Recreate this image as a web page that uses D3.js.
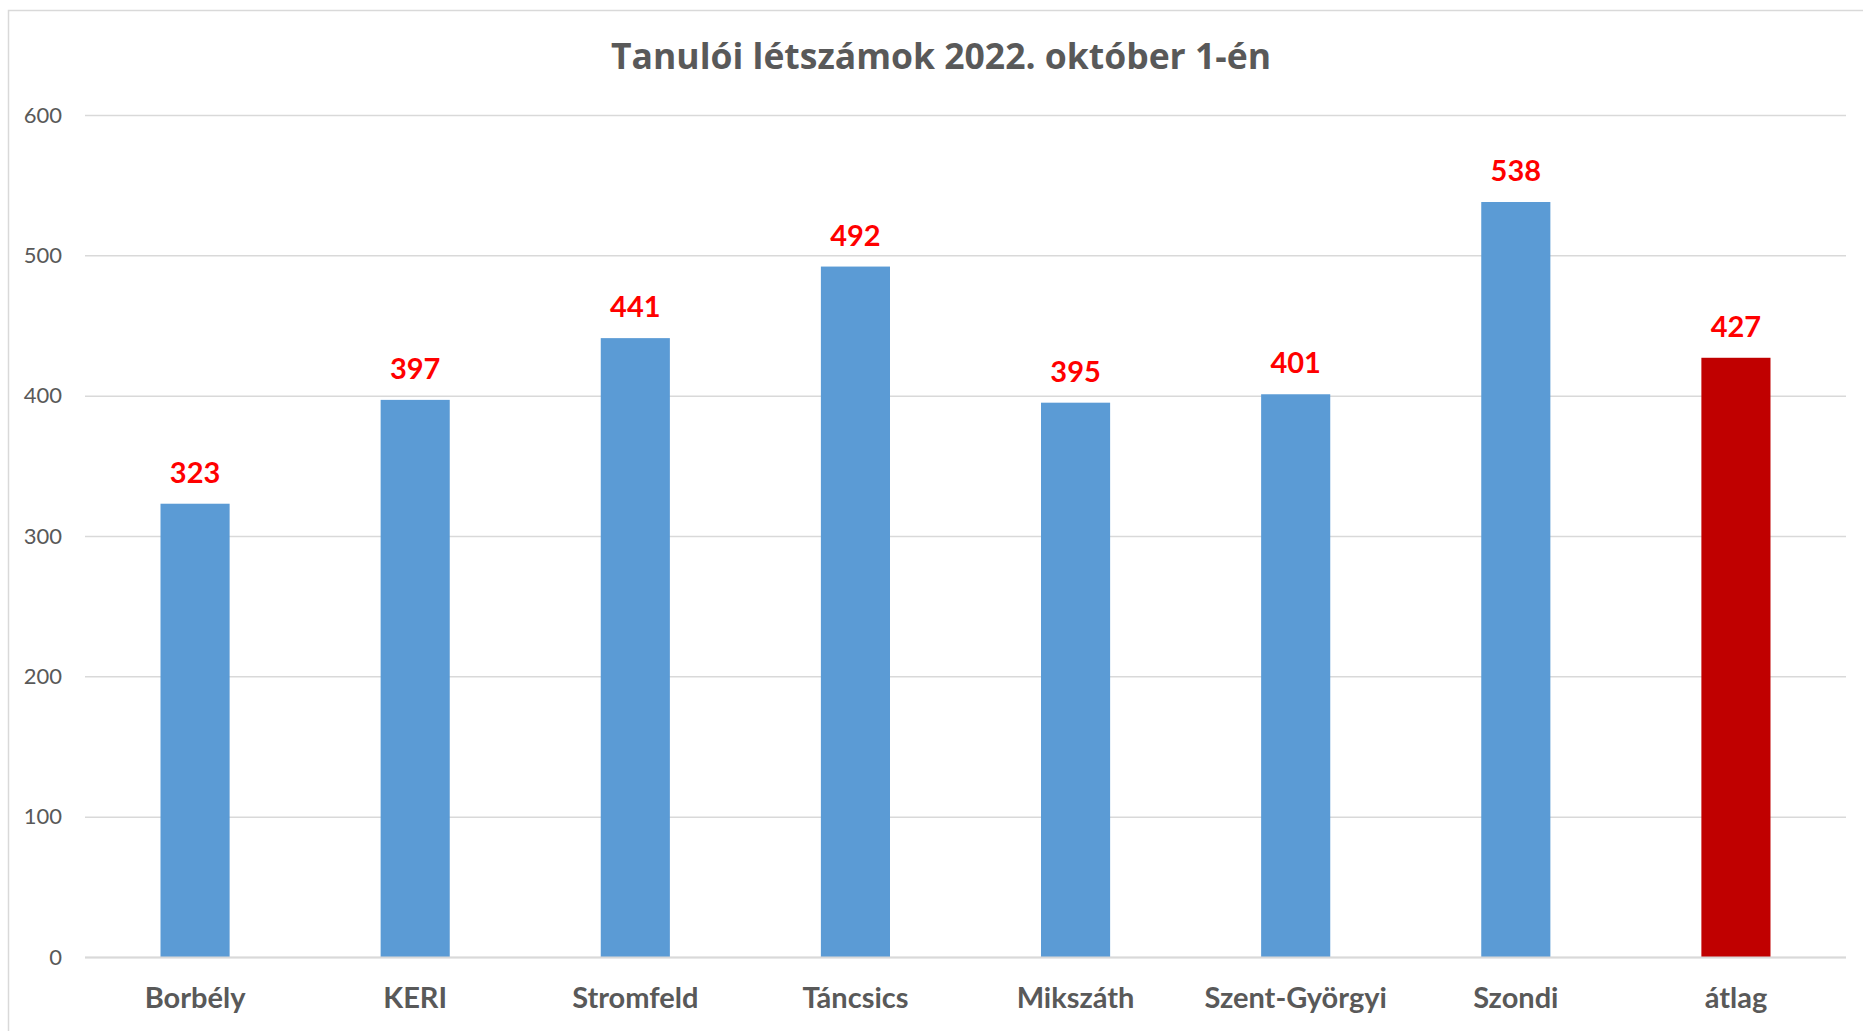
<!DOCTYPE html>
<html>
<head>
<meta charset="utf-8">
<script src="https://cdn.jsdelivr.net/npm/d3@7"></script>
<style>
  body { margin: 0; background: #fff; }
  svg { display: block; }
  text { font-family: Lato, "Open Sans", sans-serif; }
</style>
</head>
<body>
<div id="chart"></div>
<script>
const title = "Tanulói létszámok 2022. október 1-én";
const schools = ["Borbély", "KERI", "Stromfeld", "Táncsics", "Mikszáth", "Szent-Györgyi", "Szondi", "átlag"];
const students = [323, 397, 441, 492, 395, 401, 538, 427];
const yTicks = [0, 100, 200, 300, 400, 500, 600];

const width = 1863, height = 1031;
const plotLeft = 85, plotRight = 1846, plotTop = 115, plotBottom = 957;

const svg = d3.select("#chart").append("svg")
    .attr("width", width)
    .attr("height", height);

// chart frame
svg.append("rect")
    .attr("x", 8.5).attr("y", 10.5)
    .attr("width", width + 20).attr("height", height + 20)
    .attr("fill", "#fff")
    .attr("stroke", "#d9d9d9")
    .attr("stroke-width", 1.5);

const x = d3.scaleBand()
    .domain(schools)
    .range([plotLeft, plotRight])
    .paddingInner(0.686)
    .paddingOuter(0.343);

const y = d3.scaleLinear()
    .domain([0, 600])
    .range([plotBottom, plotTop]);

// gridlines + y labels
const yAxis = d3.axisLeft(y)
    .tickValues(yTicks)
    .tickSize(-(plotRight - plotLeft))
    .tickPadding(23)
    .tickFormat(d3.format("d"));

const gy = svg.append("g")
    .attr("transform", `translate(${plotLeft},0)`)
    .call(yAxis);
gy.select(".domain").remove();
gy.selectAll(".tick line")
    .attr("stroke", "#d9d9d9")
    .attr("stroke-width", 1.5);
gy.selectAll(".tick text")
    .attr("fill", "#595959")
    .style("font-size", "22px");

// bars
svg.append("g").selectAll("rect")
    .data(schools)
    .join("rect")
    .attr("x", d => x(d))
    .attr("y", (d, i) => y(students[i]))
    .attr("width", x.bandwidth())
    .attr("height", (d, i) => plotBottom - y(students[i]))
    .attr("fill", d => d === "átlag" ? "#c00000" : "#5b9bd5");

// baseline
svg.append("line")
    .attr("x1", plotLeft).attr("x2", plotRight)
    .attr("y1", plotBottom + 0.5).attr("y2", plotBottom + 0.5)
    .attr("stroke", "#d9d9d9")
    .attr("stroke-width", 2);

// value labels
svg.append("g").selectAll("text")
    .data(schools)
    .join("text")
    .attr("x", d => x(d) + x.bandwidth() / 2)
    .attr("y", (d, i) => y(students[i]) - 21)
    .attr("text-anchor", "middle")
    .attr("fill", "#ff0000")
    .style("font-size", "29px")
    .style("font-weight", "bold")
    .text((d, i) => students[i]);

// category labels
svg.append("g").selectAll("text")
    .data(schools)
    .join("text")
    .attr("x", d => x(d) + x.bandwidth() / 2)
    .attr("y", 1008)
    .attr("text-anchor", "middle")
    .attr("fill", "#595959")
    .style("font-size", "29px")
    .style("font-weight", "bold")
    .text(d => d);

// title
svg.append("text")
    .attr("x", 941)
    .attr("y", 69)
    .attr("text-anchor", "middle")
    .attr("fill", "#595959")
    .style("font-family", "'Open Sans', sans-serif")
    .style("font-size", "35.5px")
    .style("font-weight", "bold")
    .text(title);
</script>
</body>
</html>
